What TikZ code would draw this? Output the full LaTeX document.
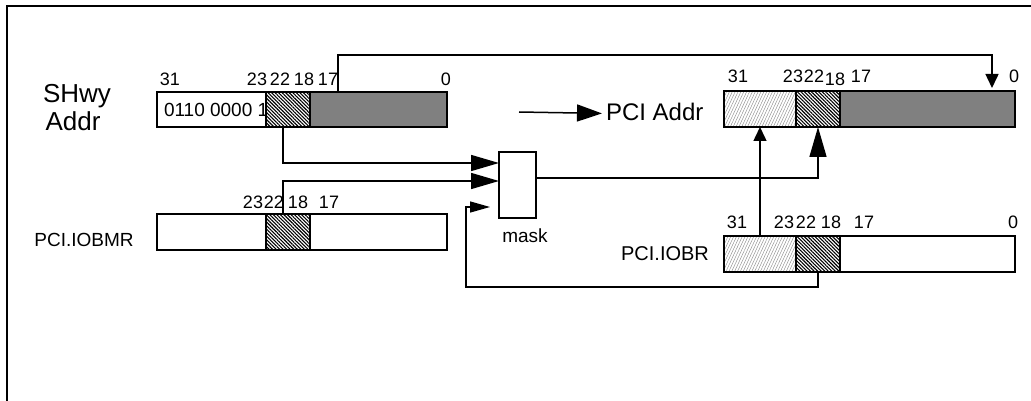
\documentclass[tikz,border=0pt]{standalone}
\usepackage{fontspec}
\setmainfont{Liberation Sans}
\usetikzlibrary{arrows.meta,patterns.meta,calc}
\begin{document}
\begin{tikzpicture}[x=1pt,y=-1pt,
  every node/.style={inner sep=0pt,outer sep=0pt},
  seg/.style={draw=black,line width=1.6pt,anchor=north west,inner sep=0pt,outer sep=0pt},
  darkhatch/.style={preaction={fill=white},pattern={Lines[angle=-45,distance=2.5pt,line width=1.1pt]},pattern color=black},
  lighthatch/.style={pattern={Lines[angle=65,distance=2.6pt,line width=0.45pt]},pattern color=black!45},
  grayfill/.style={fill=black!50},
  bit/.style={font=\fontsize{18}{18}\selectfont,anchor=base},
  conn/.style={line width=1.5pt},
  bigtip/.style={-{Triangle[length=28pt,width=16pt]}},
  midtip/.style={-{Triangle[length=14pt,width=13pt]}},
  smalltip/.style={-{Triangle[length=20pt,width=11pt]}},
]
\useasboundingbox (0,0) rectangle (1031,401);
% frame
\draw[line width=2pt] (7,401) -- (7,6) -- (1031,6);

% SHwy Addr register
\node[font=\fontsize{26}{26}\selectfont,anchor=base] (shwy) at (77,103) {SHwy};
\node[font=\fontsize{26}{26}\selectfont,anchor=base] (shaddr) at (73,131) {Addr};
\node[seg,minimum width=109pt,minimum height=35pt] (shA) at (157,92) {};
\node[font=\fontsize{19}{19}\selectfont,anchor=base west] (shval) at (164,117) {0110 0000 1};
\node[seg,darkhatch,minimum width=44pt,minimum height=35pt] (shB) at (266,92) {};
\node[seg,grayfill,minimum width=137pt,minimum height=35pt] (shC) at (310,92) {};
\node[bit] (sh31) at (170,86) {31};
\node[bit] (sh23) at (257,86) {23};
\node[bit] (sh22) at (280,86) {22};
\node[bit] (sh18) at (304,86) {18};
\node[bit] (sh17) at (328,86) {17};
\node[bit] (sh0) at (446,86) {0};

% PCI.IOBMR register
\node[font=\fontsize{19}{19}\selectfont,anchor=base] (iobmr) at (84,246) {PCI.IOBMR};
\node[seg,minimum width=109pt,minimum height=36pt] (mA) at (157,214) {};
\node[seg,darkhatch,minimum width=44pt,minimum height=36pt] (mB) at (266,214) {};
\node[seg,minimum width=137pt,minimum height=36pt] (mC) at (310,214) {};
\node[bit] (m23) at (253,208) {23};
\node[bit] (m22) at (274,208) {22};
\node[bit] (m18) at (298,208) {18};
\node[bit] (m17) at (329,208) {17};

% mask
\node[seg,minimum width=37pt,minimum height=66pt] (mask) at (499,152) {};
\node[font=\fontsize{19}{19}\selectfont,anchor=base] (masklbl) at (525,242) {mask};

% PCI Addr register
\node[font=\fontsize{24}{24}\selectfont,anchor=base west] (pcilbl) at (606,121) {PCI Addr};
\coordinate (pcistart) at (519,112);
\node[seg,lighthatch,minimum width=72pt,minimum height=36pt] (pA) at (724,91) {};
\node[seg,darkhatch,minimum width=44pt,minimum height=36pt] (pB) at (796,91) {};
\node[seg,grayfill,minimum width=175pt,minimum height=36pt] (pC) at (840,91) {};
\node[bit] (p31) at (738,83) {31};
\node[bit] (p23) at (793,83) {23};
\node[bit] (p22) at (814,83) {22};
\node[bit] (p18) at (835,86) {18};
\node[bit] (p17) at (861,83) {17};
\node[bit] (p0) at (1014,83) {0};

% PCI.IOBR register
\node[font=\fontsize{20}{20}\selectfont,anchor=base] (iobr) at (665,260) {PCI.IOBR};
\node[seg,lighthatch,minimum width=72pt,minimum height=36pt] (iA) at (724,236) {};
\node[seg,darkhatch,minimum width=44pt,minimum height=36pt] (iB) at (796,236) {};
\node[seg,minimum width=175pt,minimum height=36pt] (iC) at (840,236) {};
\node[bit] (i31) at (737,228) {31};
\node[bit] (i23) at (784,228) {23};
\node[bit] (i22) at (806,228) {22};
\node[bit] (i18) at (831,228) {18};
\node[bit] (i17) at (864,228) {17};
\node[bit] (i0) at (1013,228) {0};

% connectors
\draw[conn,-{Triangle[length=25pt,width=17pt]}] (pcistart) -- ([xshift=-4pt,yshift=-1pt]pcilbl.west);
\draw[conn,-{Triangle[length=14pt,width=13pt]}] ([xshift=28pt]shC.north west) |- (500,55) -| ([xshift=-23pt,yshift=3pt]pC.north east);
\draw[conn,bigtip] ([xshift=-5pt]shB.south) |- ([yshift=-11pt]mask.north west);
\draw[conn,bigtip] ([xshift=-5pt]mB.north) |- ([yshift=-29pt]mask.north west);
\draw[conn,smalltip] (iB.south) |- (466,287) |- ([xshift=-9pt,yshift=-55pt]mask.north west);
\draw[conn,-{Triangle[length=30pt,width=17pt]}] ([yshift=-26pt]mask.north east) -| (pB.south);
\draw[conn,midtip] (iA.north) -- (pA.south);
\end{tikzpicture}
\end{document}
